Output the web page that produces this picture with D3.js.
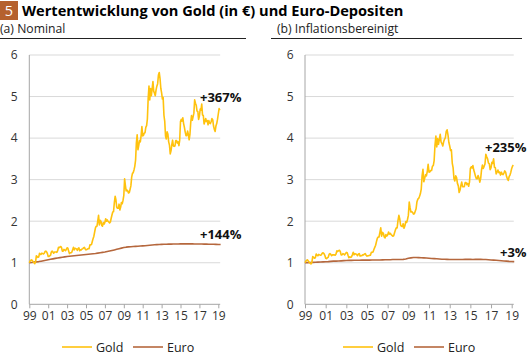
<!DOCTYPE html>
<html><head><meta charset="utf-8">
<script src="https://cdn.jsdelivr.net/npm/d3@7"></script>
<style>
body{margin:0;background:#fff;}
svg{display:block;font-family:"Open Sans","Noto Sans",sans-serif;}
</style></head>
<body><svg id="c" width="531" height="354"></svg>
<script>
// ---- data ----
const startMonth = "1999-01";
const xTickLabels = ["99","01","03","05","07","09","11","13","15","17","19"];
const yTicks = [0,1,2,3,4,5,6];
const seriesNames = ["Gold","Euro"];
const panelTitles = ["(a) Nominal","(b) Inflationsbereinigt"];
const endLabels = [["+367%","+144%"],["+235%","+3%"]];

// monthly, Jan 1999 - Mar 2019, indexed to 1
const goldNominal = [
1.00,1.04,1.06,1.07,1.05,1.02,1.00,0.98,1.02,1.17,1.15,1.13,
1.14,1.23,1.20,1.20,1.23,1.22,1.21,1.23,1.27,1.28,1.26,1.22,
1.15,1.15,1.17,1.18,1.26,1.28,1.26,1.23,1.26,1.26,1.26,1.25,
1.29,1.37,1.36,1.38,1.39,1.36,1.28,1.28,1.32,1.31,1.29,1.32,
1.36,1.35,1.28,1.22,1.24,1.24,1.25,1.31,1.37,1.31,1.35,1.34,
1.33,1.30,1.34,1.36,1.29,1.31,1.31,1.33,1.34,1.36,1.37,1.33,
1.31,1.32,1.33,1.34,1.34,1.43,1.43,1.44,1.51,1.58,1.64,1.74,
1.84,1.88,1.88,2.01,2.14,1.91,2.02,2.00,1.90,1.88,1.97,1.93,
1.97,2.06,2.00,2.03,2.00,1.98,1.96,1.98,2.07,2.15,2.22,2.23,
2.45,2.60,2.52,2.34,2.31,2.31,2.41,2.27,2.34,2.45,2.42,2.50,
2.62,3.02,2.87,2.73,2.75,2.73,2.68,2.69,2.77,2.85,3.06,3.15,
3.17,3.24,3.32,3.47,3.88,4.08,3.72,3.82,3.94,3.91,4.06,4.28,
4.05,4.07,4.12,4.13,4.26,4.30,4.46,4.96,5.25,4.92,5.19,5.02,
5.19,5.36,5.13,5.08,5.02,5.16,5.25,5.31,5.52,5.58,5.43,5.20,
5.09,4.94,4.98,4.55,4.41,4.05,3.98,4.15,4.09,3.91,3.83,3.62,
3.70,3.85,3.95,3.81,3.80,3.81,3.94,3.94,3.88,3.91,3.82,3.95,
4.40,4.45,4.41,4.49,4.35,4.26,4.15,4.06,4.06,4.17,4.09,3.96,
4.09,4.38,4.54,4.43,4.51,4.60,4.92,4.84,4.79,4.65,4.64,4.45,
4.53,4.70,4.67,4.82,4.56,4.54,4.34,4.40,4.47,4.40,4.42,4.32,
4.42,4.36,4.35,4.40,4.47,4.44,4.29,4.21,4.16,4.29,4.35,4.45,
4.58,4.71,4.67];

const goldReal = [
1.00,1.04,1.06,1.07,1.04,1.01,0.99,0.97,1.01,1.15,1.13,1.11,
1.12,1.21,1.18,1.17,1.20,1.19,1.18,1.19,1.23,1.24,1.22,1.18,
1.11,1.10,1.12,1.13,1.20,1.22,1.20,1.17,1.19,1.19,1.19,1.18,
1.21,1.29,1.27,1.29,1.30,1.27,1.19,1.19,1.22,1.21,1.19,1.22,
1.25,1.24,1.18,1.12,1.14,1.13,1.14,1.19,1.25,1.19,1.22,1.21,
1.20,1.17,1.21,1.22,1.16,1.17,1.17,1.19,1.19,1.21,1.22,1.18,
1.16,1.17,1.17,1.18,1.18,1.25,1.25,1.26,1.32,1.37,1.42,1.51,
1.59,1.62,1.62,1.73,1.84,1.64,1.73,1.71,1.62,1.60,1.68,1.64,
1.67,1.74,1.69,1.71,1.68,1.66,1.64,1.65,1.72,1.79,1.84,1.84,
2.02,2.14,2.06,1.91,1.88,1.87,1.94,1.83,1.89,1.99,1.97,2.04,
2.14,2.46,2.33,2.22,2.23,2.21,2.17,2.18,2.24,2.30,2.47,2.53,
2.55,2.60,2.66,2.77,3.09,3.25,2.95,3.03,3.12,3.09,3.20,3.37,
3.18,3.19,3.22,3.22,3.32,3.34,3.46,3.84,4.05,3.79,3.99,3.85,
3.97,4.09,3.91,3.87,3.81,3.91,3.97,4.01,4.16,4.20,4.08,3.90,
3.81,3.70,3.72,3.40,3.29,3.02,2.97,3.09,3.05,2.91,2.85,2.69,
2.75,2.86,2.94,2.83,2.83,2.83,2.93,2.93,2.88,2.91,2.84,2.94,
3.27,3.31,3.28,3.34,3.23,3.16,3.08,3.02,3.02,3.10,3.04,2.94,
3.03,3.24,3.35,3.27,3.32,3.38,3.61,3.55,3.50,3.40,3.38,3.24,
3.29,3.42,3.39,3.50,3.30,3.29,3.14,3.18,3.23,3.17,3.18,3.11,
3.18,3.13,3.12,3.16,3.21,3.18,3.08,3.02,2.98,3.07,3.11,3.18,
3.27,3.33,3.35];

// quarterly, Jan 1999 - Apr 2019
const euroNominal = [
1.000,1.007,1.014,1.021, 1.028,1.038,1.049,1.060, 1.071,1.083,1.094,1.105,
1.115,1.124,1.133,1.142, 1.150,1.157,1.163,1.169, 1.175,1.181,1.187,1.193,
1.199,1.205,1.211,1.217, 1.223,1.231,1.240,1.249, 1.259,1.271,1.283,1.296,
1.309,1.323,1.337,1.352, 1.366,1.375,1.381,1.386, 1.390,1.394,1.398,1.402,
1.406,1.411,1.417,1.423, 1.429,1.433,1.437,1.440, 1.442,1.444,1.446,1.448,
1.449,1.451,1.452,1.453, 1.454,1.455,1.455,1.455, 1.455,1.454,1.453,1.452,
1.451,1.450,1.449,1.448, 1.447,1.446,1.444,1.443, 1.441,1.440];

const euroReal = [
1.000,1.003,1.006,1.010, 1.012,1.016,1.019,1.022, 1.025,1.028,1.033,1.038,
1.040,1.042,1.046,1.050, 1.053,1.056,1.058,1.060, 1.060,1.061,1.062,1.062,
1.063,1.064,1.066,1.067, 1.066,1.067,1.069,1.072, 1.073,1.074,1.078,1.079,
1.078,1.080,1.082,1.092, 1.110,1.118,1.125,1.128, 1.124,1.120,1.118,1.114,
1.110,1.104,1.100,1.095, 1.090,1.086,1.084,1.082, 1.080,1.079,1.080,1.080,
1.079,1.080,1.081,1.082, 1.082,1.080,1.081,1.083, 1.082,1.080,1.078,1.074,
1.068,1.063,1.059,1.055, 1.050,1.043,1.038,1.033, 1.030,1.028];

// ---- drawing ----
const svg = d3.select("#c");
const GOLD = "#FFC20E", EURO = "#B5673D";
const parse = d3.timeParse("%Y-%m");
const t0 = parse(startMonth);
const monthly = arr => arr.map((v,i)=>({d:d3.timeMonth.offset(t0,i), v}));
const quarterly = arr => arr.map((v,i)=>({d:d3.timeMonth.offset(t0,3*i), v}));

// title
svg.append("rect").attr("x",0).attr("y",1).attr("width",18).attr("height",19).attr("fill","#B5612E");
svg.append("text").attr("x",9).attr("y",15.5).attr("text-anchor","middle").attr("fill","#fff")
  .attr("font-size",14.5).text("5");
svg.append("text").attr("x",22).attr("y",15.5).attr("font-weight","bold").attr("font-size",14.6)
  .attr("fill","#000").text("Wertentwicklung von Gold (in €) und Euro-Depositen");

const panels = [
  {x0:29.3, x19:218.3, tx:0, lineX:[0,246], gold:goldNominal, euro:euroNominal,
   labels:endLabels[0], labelPos:[[200,102],[200,239]], legend:62, yLab:17.5},
  {x0:305, x19:511.7, tx:277, lineX:[271,522], gold:goldReal, euro:euroReal,
   labels:endLabels[1], labelPos:[[485,152],[500,257]], legend:343, yLab:293.5}
];

panels.forEach((p,pi)=>{
  const g = svg.append("g");
  g.append("text").attr("x",p.tx).attr("y",33).attr("font-size",12.2).attr("fill","#222").text(panelTitles[pi]);
  g.append("line").attr("x1",p.lineX[0]).attr("x2",p.lineX[1]).attr("y1",38.5).attr("y2",38.5)
    .attr("stroke","#222").attr("stroke-width",1);

  const tStart = new Date(1999,0,1), tEnd = new Date(2019,0,1);
  const x = d3.scaleTime().domain([tStart,tEnd]).range([p.x0,p.x19]);
  const xEnd = x(new Date(2019,2,15));
  const y = d3.scaleLinear().domain([0,6]).range([304.3,55]);

  // grid
  g.append("g").selectAll("line").data(yTicks.filter(t=>t>0)).join("line")
    .attr("x1",p.x0).attr("x2",xEnd).attr("y1",d=>y(d)).attr("y2",d=>y(d))
    .attr("stroke","#d9d9d9").attr("stroke-width",1);

  // y axis
  const ya = d3.axisLeft(y).tickValues(yTicks).tickSize(0).tickPadding(0).tickFormat(d3.format("d"));
  const yg = g.append("g").attr("transform",`translate(${p.yLab},0)`).call(ya);
  yg.select(".domain").remove();
  yg.selectAll("text").attr("font-size",12).attr("fill","#333").attr("font-family",'"Open Sans",sans-serif');
  g.append("line").attr("x1",p.x0).attr("x2",p.x0).attr("y1",55).attr("y2",y(0))
    .attr("stroke","#a6a6a6").attr("stroke-width",1);

  // x axis
  const tickDates = xTickLabels.map((s,i)=>new Date(1999+2*i,0,1));
  const xa = d3.axisBottom(x).tickValues(tickDates).tickSize(4).tickPadding(3)
    .tickFormat((d,i)=>xTickLabels[i]);
  const xg = g.append("g").attr("transform",`translate(0,${y(0)})`).call(xa);
  xg.select(".domain").attr("d",`M${p.x0},0H${xEnd}`).attr("stroke","#a6a6a6");
  xg.selectAll(".tick line").attr("stroke","#a6a6a6");
  xg.selectAll("text").attr("font-size",12).attr("fill","#333").attr("font-family",'"Open Sans",sans-serif');

  const line = d3.line().x(d=>x(d.d)).y(d=>y(d.v));
  g.append("path").datum(quarterly(p.euro)).attr("d",line).attr("fill","none")
    .attr("stroke",EURO).attr("stroke-width",1.6).attr("stroke-linejoin","round");
  g.append("path").datum(monthly(p.gold)).attr("d",line).attr("fill","none")
    .attr("stroke",GOLD).attr("stroke-width",1.6).attr("stroke-linejoin","round");

  p.labels.forEach((s,i)=>{
    g.append("text").attr("x",p.labelPos[i][0]).attr("y",p.labelPos[i][1]).attr("font-weight","bold")
      .attr("font-size",13).attr("fill","#111").text(s);
  });

  // legend
  const lx = p.legend, ly = 347;
  [GOLD,EURO].forEach((c,i)=>{
    const ox = lx + i*71;
    g.append("line").attr("x1",ox).attr("x2",ox+30).attr("y1",ly).attr("y2",ly).attr("stroke",c).attr("stroke-width",1.6);
    g.append("text").attr("x",ox+34).attr("y",ly+4.5).attr("font-size",12.5).attr("fill","#222").text(seriesNames[i]);
  });
});
</script></body></html>
